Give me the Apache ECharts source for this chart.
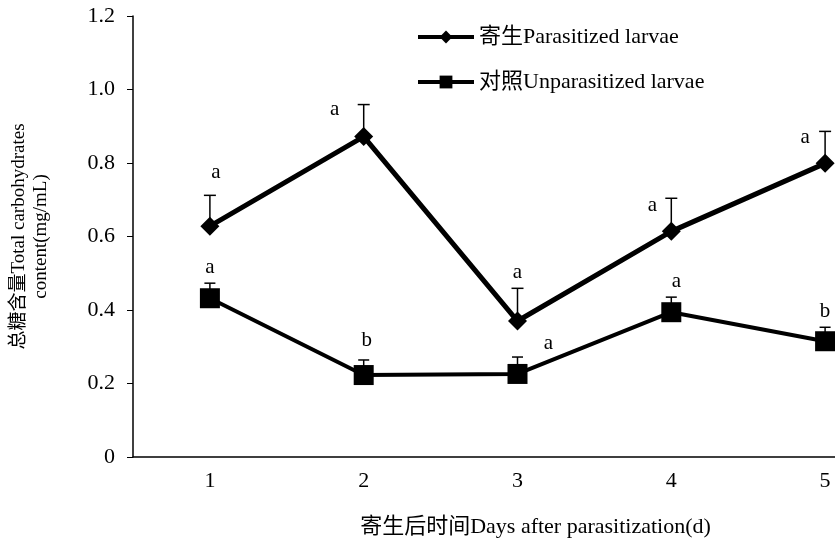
<!DOCTYPE html>
<html><head><meta charset="utf-8">
<script src="https://cdn.jsdelivr.net/npm/echarts@6/dist/echarts.min.js"></script>
<style>html,body{margin:0;padding:0;background:#fff;overflow:hidden;width:835px;height:543px}#c{width:905px;height:543px}</style>
</head><body><div id="c"></div>
<script>
const categories = ['1','2','3','4','5'];
const parasitized = [0.628, 0.872, 0.370, 0.614, 0.799];
const parasitizedErr = [0.084, 0.087, 0.089, 0.090, 0.087];
const parasitizedLetters = ['a','a','a','a','a'];
const control = [0.432, 0.223, 0.226, 0.394, 0.315];
const controlErr = [0.041, 0.041, 0.046, 0.041, 0.038];
const controlLetters = ['a','b','a','a','b'];
const yTicks = [0, 0.2, 0.4, 0.6, 0.8, 1.0, 1.2];

// label placement (style only)
const pOff = [[6,-23],[-29,5],[0,-16],[-19,7],[-20,6]];
const cOff = [[0,-16],[3,-19],[31,-14],[5,-16],[0,-16]];

const FONT = '"Liberation Serif","Times New Roman","Noto Sans CJK SC",serif';

function errSeries(vals, errs, letters, offs, capW) {
  return {
    type: 'custom', z: 1, silent: true,
    data: vals.map((v, i) => [i, v, errs[i]]),
    renderItem: function (params, api) {
      const i = api.value(0);
      const base = api.coord([i, api.value(1)]);
      const top = api.coord([i, api.value(1) + api.value(2)]);
      const o = offs[i];
      return {
        type: 'group',
        children: [
          { type: 'line', shape: { x1: base[0], y1: base[1], x2: top[0], y2: top[1] }, style: { stroke: '#000', lineWidth: 1.5 } },
          { type: 'line', shape: { x1: top[0] - capW / 2, y1: top[1], x2: top[0] + capW / 2, y2: top[1] }, style: { stroke: '#000', lineWidth: 1.5 } },
          { type: 'text', x: top[0] + o[0], y: top[1] + o[1], style: { text: letters[i], fill: '#000', font: '21px ' + FONT, align: 'center', verticalAlign: 'middle' } }
        ]
      };
    }
  };
}

const chart = echarts.init(document.getElementById('c'));
chart.setOption({
  animation: false,
  backgroundColor: '#fff',
  textStyle: { fontFamily: FONT, color: '#000' },
  legend: {
    orient: 'vertical', left: 411, top: 21, itemGap: 23, itemWidth: 56, itemHeight: 16,
    lineStyle: { width: 4 },
    textStyle: { fontFamily: FONT, fontSize: 22, color: '#000' },
    data: ['寄生Parasitized larvae', '对照Unparasitized larvae']
  },
  grid: { left: 130, top: 16, right: 3, bottom: 85 },
  xAxis: {
    type: 'category', data: categories, boundaryGap: true,
    axisLine: { lineStyle: { color: '#000', width: 1.5 } },
    axisTick: { show: false },
    axisLabel: { color: '#000', fontSize: 22, fontFamily: FONT, margin: 13 },
    name: '寄生后时间Days after parasitization(d)', nameLocation: 'middle', nameGap: 59,
    nameTextStyle: { color: '#000', fontSize: 22, fontFamily: FONT, padding: [0, 0, 0, 36] }
  },
  yAxis: {
    type: 'value', min: 0, max: 1.2, interval: 0.2,
    axisLine: { show: true, lineStyle: { color: '#000', width: 1.5 } },
    axisTick: { show: true, length: 6, lineStyle: { color: '#000' } },
    splitLine: { show: false },
    axisLabel: { color: '#000', fontSize: 22, fontFamily: FONT, margin: 18,
      formatter: v => { const t = yTicks.find(x => Math.abs(x - v) < 1e-6); return t === 0 ? '0' : t.toFixed(1); } },
    name: '总糖含量Total carbohydrates\ncontent(mg/mL)', nameLocation: 'middle', nameGap: 81,
    nameTextStyle: { color: '#000', fontSize: 19, fontFamily: FONT, lineHeight: 22 }
  },
  series: [
    errSeries(parasitized, parasitizedErr, parasitizedLetters, pOff, 12),
    errSeries(control, controlErr, controlLetters, cOff, 11),
    {
      name: '寄生Parasitized larvae', type: 'line', data: parasitized, z: 3,
      symbol: 'diamond', symbolSize: 19,
      lineStyle: { color: '#000', width: 5 }, itemStyle: { color: '#000' }
    },
    {
      name: '对照Unparasitized larvae', type: 'line', data: control, z: 3,
      symbol: 'rect', symbolSize: 20,
      lineStyle: { color: '#000', width: 4 }, itemStyle: { color: '#000' }
    }
  ]
});
</script></body></html>
